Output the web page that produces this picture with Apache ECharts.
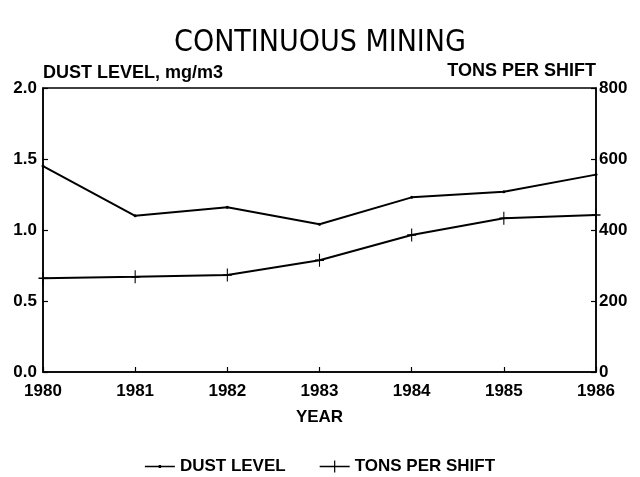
<!DOCTYPE html>
<html>
<head>
<meta charset="utf-8">
<script src="https://cdn.jsdelivr.net/npm/echarts@6/dist/echarts.min.js"></script>
<style>
html,body{margin:0;padding:0;background:#fff;}
#chart{width:640px;height:477px;}
</style>
</head>
<body>
<div id="chart"></div>
<script>
var years = ['1980','1981','1982','1983','1984','1985','1986'];
var dustLevel = [1.45, 1.10, 1.16, 1.04, 1.23, 1.27, 1.39];
var tonsPerShift = [264, 268, 273, 315, 386, 433, 442];

var FONT = "'Liberation Sans', Arial, Helvetica, sans-serif";
var plusPath = 'path://M4.4,0 H5.6 V4.4 H10 V5.6 H5.6 V10 H4.4 V5.6 H0 V4.4 H4.4 Z';
var dustIcon = 'path://M0,0 Z M0,5.2 H30 V6.8 H0 Z M13.8,4.6 H16.2 V7.4 H13.8 Z M30,12 Z';
var tonsIcon = 'path://M0,5.2 H30 V6.8 H0 Z M14.4,0 H15.6 V12 H14.4 Z';

var chart = echarts.init(document.getElementById('chart'), null, {renderer:'canvas'});
chart.setOption({
  backgroundColor: '#fff',
  animation: false,
  title: {
    text: 'CONTINUOUS MINING',
    left: 'center',
    top: 23,
    textStyle: {fontFamily: "'Liberation Sans Narrow', 'DejaVu Sans Condensed', " + FONT, fontSize: 30, fontWeight: 'normal', color: '#000'}
  },
  legend: {
    top: 453,
    left: 'center',
    itemWidth: 30,
    itemHeight: 12,
    itemGap: 34,
    textStyle: {fontFamily: FONT, fontSize: 17, fontWeight: 'bold', color: '#000'},
    data: [
      {name: 'DUST LEVEL', icon: dustIcon},
      {name: 'TONS PER SHIFT', icon: tonsIcon}
    ]
  },
  grid: {left: 43, right: 44, top: 88, bottom: 105, show: true, borderColor: '#000', borderWidth: 1.5, backgroundColor: 'transparent'},
  xAxis: {
    type: 'category',
    data: years,
    boundaryGap: false,
    name: 'YEAR',
    nameLocation: 'middle',
    nameGap: 37,
    nameTextStyle: {fontFamily: FONT, fontSize: 17, fontWeight: 'bold', color: '#000'},
    axisLine: {lineStyle: {color: '#000', width: 1.5}},
    axisTick: {inside: true, length: 5, lineStyle: {color: '#000', width: 1.2}},
    axisLabel: {margin: 11, fontFamily: FONT, fontSize: 17, fontWeight: 'bold', color: '#000'},
    splitLine: {show: false}
  },
  yAxis: [
    {
      type: 'value', min: 0, max: 2, interval: 0.5, position: 'left',
      name: 'DUST LEVEL, mg/m3',
      nameLocation: 'end',
      nameGap: 6,
      nameTextStyle: {fontFamily: FONT, fontSize: 18, fontWeight: 'bold', color: '#000', align: 'left'},
      axisLine: {show: true, lineStyle: {color: '#000', width: 1.5}},
      axisTick: {show: true, inside: true, length: 5, lineStyle: {color: '#000', width: 1.2}},
      axisLabel: {margin: 6, fontFamily: FONT, fontSize: 17, fontWeight: 'bold', color: '#000', formatter: function(v){return v.toFixed(1);}},
      splitLine: {show: false}
    },
    {
      type: 'value', min: 0, max: 800, interval: 200, position: 'right',
      name: 'TONS PER SHIFT',
      nameLocation: 'end',
      nameGap: 6,
      nameTextStyle: {fontFamily: FONT, fontSize: 18, fontWeight: 'bold', color: '#000', align: 'right'},
      axisLine: {show: true, lineStyle: {color: '#000', width: 1.5}},
      axisTick: {show: true, inside: true, length: 5, lineStyle: {color: '#000', width: 1.2}},
      axisLabel: {margin: 3, fontFamily: FONT, fontSize: 17, fontWeight: 'bold', color: '#000'},
      splitLine: {show: false}
    }
  ],
  series: [
    {
      name: 'DUST LEVEL',
      type: 'line',
      yAxisIndex: 0,
      data: dustLevel,
      symbol: 'circle',
      symbolSize: 3,
      showSymbol: true,
      lineStyle: {color: '#000', width: 2},
      itemStyle: {color: '#000'}
    },
    {
      name: 'TONS PER SHIFT',
      type: 'line',
      yAxisIndex: 1,
      data: tonsPerShift,
      symbol: plusPath,
      symbolSize: [9, 13],
      showSymbol: true,
      lineStyle: {color: '#000', width: 2},
      itemStyle: {color: '#000'}
    }
  ]
});
</script>
</body>
</html>
